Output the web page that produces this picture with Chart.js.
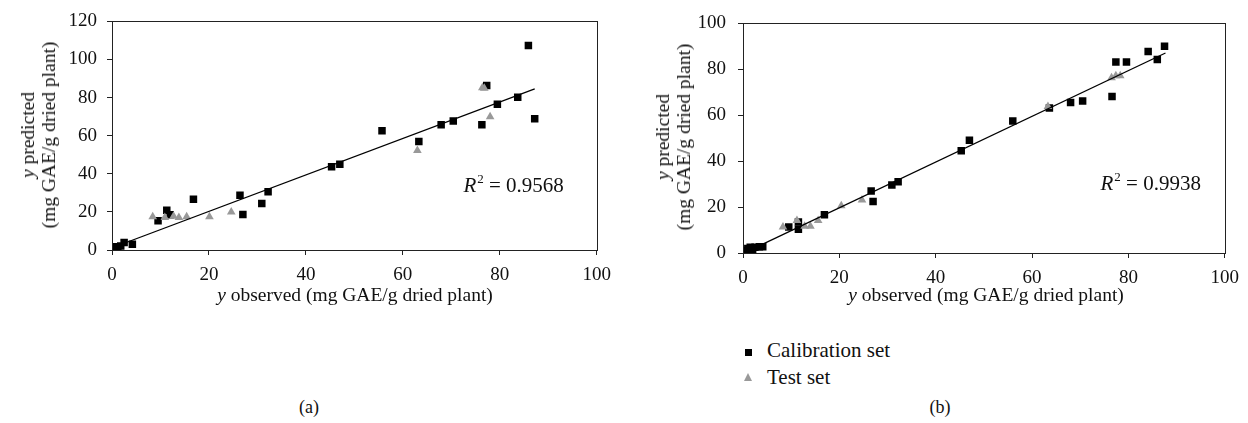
<!DOCTYPE html>
<html>
<head>
<meta charset="utf-8">
<script src="https://cdn.jsdelivr.net/npm/chart.js@4.4.0/dist/chart.umd.min.js"></script>
<style>
  body { margin:0; background:#fff; }
  #wrap { position:relative; width:1248px; height:423px; font-family:"Liberation Serif", serif; color:#111; }
  canvas { position:absolute; top:0; }
  .txt { position:absolute; white-space:nowrap; font-size:19.5px; line-height:21px; transform:translate(-50%,-50%); text-align:center; }
  .ytitle { transform:translate(-50%,-50%) rotate(-90deg); }
  .lab { font-size:18px; }
  .leg { position:absolute; font-size:21px; white-space:nowrap; }
  .sq { position:absolute; width:7px; height:7px; background:#000; }
  .tri { position:absolute; width:0; height:0; border-left:4.5px solid transparent; border-right:4.5px solid transparent; border-bottom:8px solid #999; }
</style>
</head>
<body>
<div id="wrap">
  <canvas id="chartA" width="620" height="300" style="left:0"></canvas>
  <canvas id="chartB" width="618" height="300" style="left:630px"></canvas>

  <div class="txt ytitle" style="left:38px;top:135px"><i>y</i> predicted<br>(mg GAE/g dried plant)</div>
  <div class="txt" style="left:355px;top:294px"><i>y</i> observed (mg GAE/g dried plant)</div>
  <div class="txt lab" style="left:309px;top:407px">(a)</div>

  <div class="txt ytitle" style="left:673px;top:137px"><i>y</i> predicted<br>(mg GAE/g dried plant)</div>
  <div class="txt" style="left:986px;top:294px"><i>y</i> observed (mg GAE/g dried plant)</div>
  <div class="txt lab" style="left:940px;top:407px">(b)</div>

  <!-- legend -->
  <div class="sq" style="left:745px;top:349px"></div>
  <div class="leg" style="left:767px;top:338px">Calibration set</div>
  <div class="tri" style="left:744px;top:373px"></div>
  <div class="leg" style="left:767px;top:365px">Test set</div>
</div>

<script>
// ---------------- 데이터 ---------------- //
const xTicks = [0, 20, 40, 60, 80, 100];

// (a)
const calAx = [0.6, 1.2, 1.8, 2.5, 4.2, 9.5, 11.3, 12, 16.8, 26.4, 27, 30.9, 32.2, 45.3, 47, 55.7, 63.3, 67.9, 70.4, 76.3, 77.3, 79.5, 83.7, 85.9, 87.2];
const calAy = [1.7, 1.5, 2.1, 4, 3, 15.3, 20.9, 18.5, 26.6, 28.7, 18.6, 24.4, 30.6, 43.7, 45, 62.6, 56.9, 65.7, 67.7, 65.7, 86.4, 76.5, 80.2, 107.3, 68.9];
const testAx = [8.4, 10.9, 12.7, 13.8, 15.4, 20.1, 24.6, 63, 76.4, 76.8, 78];
const testAy = [17.4, 17, 17.7, 17, 17.4, 17.4, 20, 52.2, 85.2, 84.9, 69.9];
const fitAx = [0.6, 87.2];
const fitAy = [1.7, 84.6];
const yTicksA = [0, 20, 40, 60, 80, 100, 120];
const r2A = "0.9568";

// (b)
const calBx = [0.5, 1, 1.5, 2, 2.5, 3.4, 4.1, 9.5, 11.5, 11.5, 16.9, 26.6, 27, 30.9, 32.2, 45.3, 47, 56, 63.6, 68, 70.5, 76.6, 77.4, 79.6, 84.1, 86, 87.5];
const calBy = [1, 2, 2.5, 1.5, 2.5, 2.7, 2.7, 11.3, 13.5, 10.3, 16.7, 27, 22.4, 29.6, 31, 44.5, 49.1, 57.5, 63.1, 65.6, 66.2, 68.2, 83.2, 83.2, 87.8, 84.3, 90];
const testBx = [8.3, 11.2, 12.8, 14, 15.6, 20.4, 24.7, 63.3, 76.5, 77.4, 78.3];
const testBy = [11.3, 14.2, 11.6, 11.6, 14.2, 20.6, 23.1, 63.8, 76.3, 77.2, 77.2];
const fitBx = [0.5, 87.7];
const fitBy = [0.3, 87.1];
const yTicksB = [0, 20, 40, 60, 80, 100];
const r2B = "0.9938";

const FONT = "Liberation Serif";
const pts = (xs, ys) => xs.map((x, i) => ({ x: x, y: ys[i] }));

// 플롯 영역 테두리 + R² 글자
const framePlugin = {
  id: 'frame',
  afterDraw(chart, args, opt) {
    const c = chart.ctx, a = chart.chartArea;
    c.save();
    c.strokeStyle = '#222';
    c.lineWidth = 1;
    c.strokeRect(Math.round(a.left) + 0.5, Math.round(a.top) + 0.5, Math.round(a.right - a.left), Math.round(a.bottom - a.top));
    // R² = ...
    const px = chart.scales.x.getPixelForValue(opt.x);
    const py = chart.scales.y.getPixelForValue(opt.y);
    c.fillStyle = '#111';
    c.textBaseline = 'alphabetic';
    c.font = 'italic 21px ' + FONT;
    c.fillText('R', px, py + 7);
    let w = c.measureText('R').width;
    c.font = '13px ' + FONT;
    c.fillText('2', px + w + 1, py - 2);
    w += c.measureText('2').width + 1;
    c.font = '21px ' + FONT;
    c.fillText(' = ' + opt.text, px + w, py + 7);
    c.restore();
  }
};

function makeChart(id, calX, calY, testX, testY, fitX, fitY, yTicks, box, r2) {
  const tickFont = { family: FONT, size: 19 };
  new Chart(document.getElementById(id), {
    type: 'scatter',
    data: {
      datasets: [
        { label: 'fit', data: pts(fitX, fitY), showLine: true, borderColor: '#000', borderWidth: 1.3, pointRadius: 0, order: 0 },
        { label: 'Test set', data: pts(testX, testY), pointStyle: 'triangle', pointRadius: 5, backgroundColor: '#999', borderColor: '#999', borderWidth: 0, order: 1 },
        { label: 'Calibration set', data: pts(calX, calY), pointStyle: 'rect', pointRadius: 5.3, backgroundColor: '#000', borderColor: '#000', borderWidth: 0, order: 2 }
      ]
    },
    options: {
      responsive: false,
      animation: false,
      layout: { padding: { top: box.top, right: box.right, left: 0, bottom: 0 } },
      plugins: { legend: { display: false }, tooltip: { enabled: false }, frame: r2 },
      scales: {
        x: {
          min: xTicks[0], max: xTicks[xTicks.length - 1],
          afterBuildTicks: (s) => { s.ticks = xTicks.map(v => ({ value: v })); },
          afterFit: (s) => { s.height = box.xh; },
          ticks: { font: tickFont, color: '#111', padding: 9, maxRotation: 0 },
          grid: { drawOnChartArea: false, drawTicks: true, tickLength: 5, color: '#222' },
          border: { color: '#222' }
        },
        y: {
          min: yTicks[0], max: yTicks[yTicks.length - 1],
          afterBuildTicks: (s) => { s.ticks = yTicks.map(v => ({ value: v })); },
          afterFit: (s) => { s.width = box.yw; },
          ticks: { font: tickFont, color: '#111', padding: box.tp },
          grid: { drawOnChartArea: false, drawTicks: true, tickLength: 5, color: '#222' },
          border: { color: '#222' }
        }
      }
    },
    plugins: [framePlugin]
  });
}

makeChart('chartA', calAx, calAy, testAx, testAy, fitAx, fitAy, yTicksA,
  { top: 20, right: 21, yw: 112, xh: 50, tp: 10 }, { text: r2A, x: 72.5, y: 34 });
makeChart('chartB', calBx, calBy, testBx, testBy, fitBx, fitBy, yTicksB,
  { top: 21, right: 19, yw: 113, xh: 47, tp: 12 }, { text: r2B, x: 74.2, y: 30.3 });
</script>
</body>
</html>
